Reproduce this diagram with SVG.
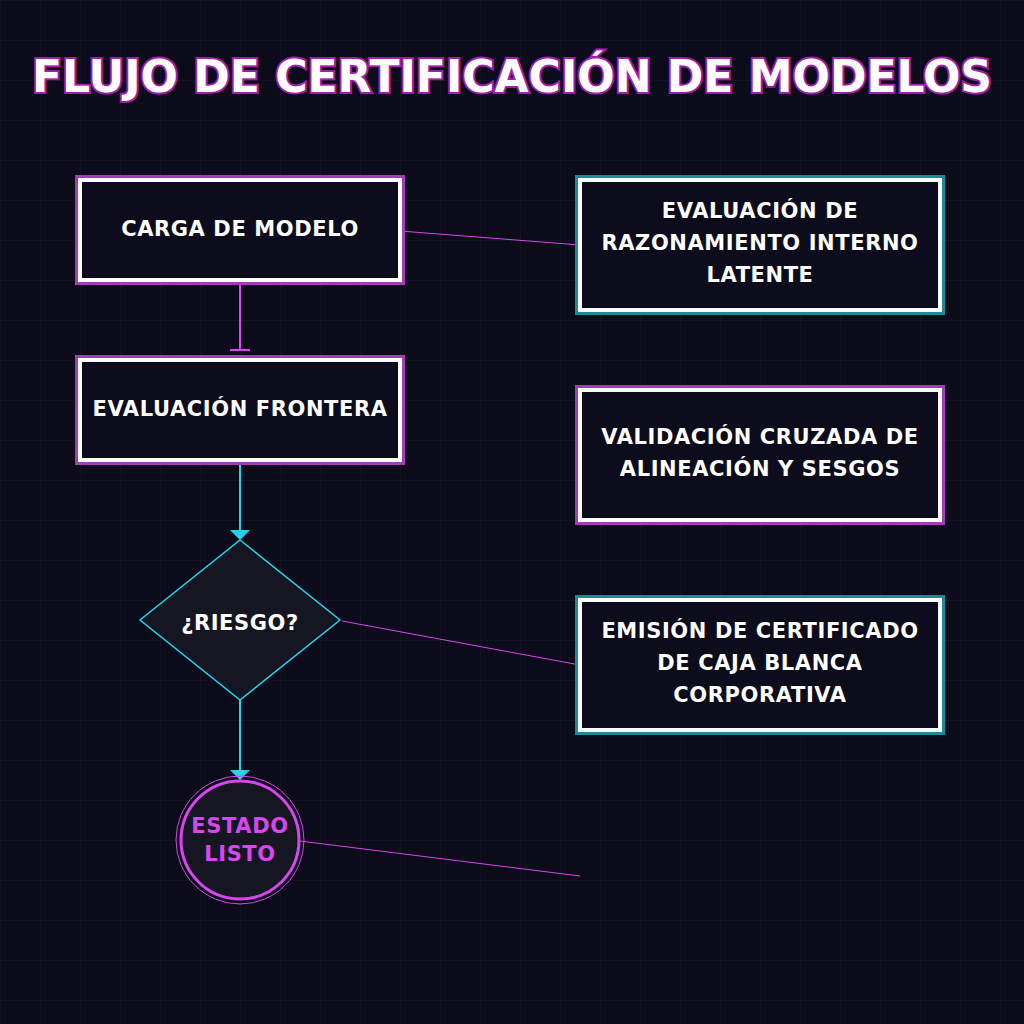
<svg xmlns="http://www.w3.org/2000/svg" width="1024" height="1024" viewBox="0 0 1024 1024">
<defs>
<pattern id="grid" width="40" height="40" patternUnits="userSpaceOnUse"><path d="M40 0H0V40" fill="none" stroke="#1a1a2e" stroke-width="1"/></pattern>
</defs>
<style>
.t{font-family:"DejaVu Sans",sans-serif;font-weight:bold;font-size:21px;fill:#fff;text-anchor:middle;letter-spacing:0.6px}
.box{fill:#0c0c1c;stroke:#fff;stroke-width:4}
.gm{fill:none;stroke:#a23db5;stroke-width:6}
.gc{fill:none;stroke:#1b8a9a;stroke-width:6}
.edge{fill:none;stroke:#d946ef}
.head{fill:#22d3ee}
</style>
<rect width="1024" height="1024" fill="#0b0b1a"/>
<rect width="1024" height="1024" fill="url(#grid)"/>
<text x="512" y="92" style="font-family:'DejaVu Sans',sans-serif;font-weight:bold;font-size:44px;fill:#fff;stroke:#a21caf;stroke-width:4;paint-order:stroke;text-anchor:middle">FLUJO DE CERTIFICACIÓN DE MODELOS</text>
<g id="connectors">
<path class="edge" d="M240 280V350" stroke-width="2"/>
<path class="edge" d="M230 350H250" stroke-width="2"/>
<path d="M240 460V532" stroke="#22d3ee" stroke-width="2"/>
<path class="head" d="M230 530H250L240 540Z"/>
<path d="M240 700V772" stroke="#22d3ee" stroke-width="2"/>
<path class="head" d="M230 770H250L240 780Z"/>
<path class="edge" d="M400 231L580 245"/>
<path class="edge" d="M342 621L580 665"/>
<path class="edge" d="M300 841L580 876"/>
</g>
<g id="n1"><rect x="75" y="175" width="330" height="110" fill="#000"/><rect class="gm" x="78" y="178" width="324" height="104"/><rect class="box" x="80" y="180" width="320" height="100"/><text class="t" x="240" y="236">CARGA DE MODELO</text></g>
<g id="n2"><rect x="75" y="355" width="330" height="110" fill="#000"/><rect class="gm" x="78" y="358" width="324" height="104"/><rect class="box" x="80" y="360" width="320" height="100"/><text class="t" x="240" y="416">EVALUACIÓN FRONTERA</text></g>
<g id="n3"><path d="M240 540L340 620L240 700L140 620Z" fill="#161622" stroke="#22d3ee" stroke-width="1.5"/><text class="t" x="240" y="630">¿RIESGO?</text></g>
<g id="n4"><circle cx="240" cy="840" r="64" fill="none" stroke="#d946ef" stroke-width="1"/><circle cx="240" cy="840" r="59" fill="#161622" stroke="#d946ef" stroke-width="3"/><text class="t" x="240" y="833" style="fill:#d946ef">ESTADO</text><text class="t" x="240" y="861" style="fill:#d946ef">LISTO</text></g>
<g id="n5"><rect x="575" y="175" width="370" height="140" fill="#000"/><rect class="gc" x="578" y="178" width="364" height="134"/><rect class="box" x="580" y="180" width="360" height="130"/><text class="t" x="760" y="218">EVALUACIÓN DE</text><text class="t" x="760" y="250">RAZONAMIENTO INTERNO</text><text class="t" x="760" y="282">LATENTE</text></g>
<g id="n6"><rect x="575" y="385" width="370" height="140" fill="#000"/><rect class="gm" x="578" y="388" width="364" height="134"/><rect class="box" x="580" y="390" width="360" height="130"/><text class="t" x="760" y="444">VALIDACIÓN CRUZADA DE</text><text class="t" x="760" y="476">ALINEACIÓN Y SESGOS</text></g>
<g id="n7"><rect x="575" y="595" width="370" height="140" fill="#000"/><rect class="gc" x="578" y="598" width="364" height="134"/><rect class="box" x="580" y="600" width="360" height="130"/><text class="t" x="760" y="638">EMISIÓN DE CERTIFICADO</text><text class="t" x="760" y="670">DE CAJA BLANCA</text><text class="t" x="760" y="702">CORPORATIVA</text></g>
</svg>
